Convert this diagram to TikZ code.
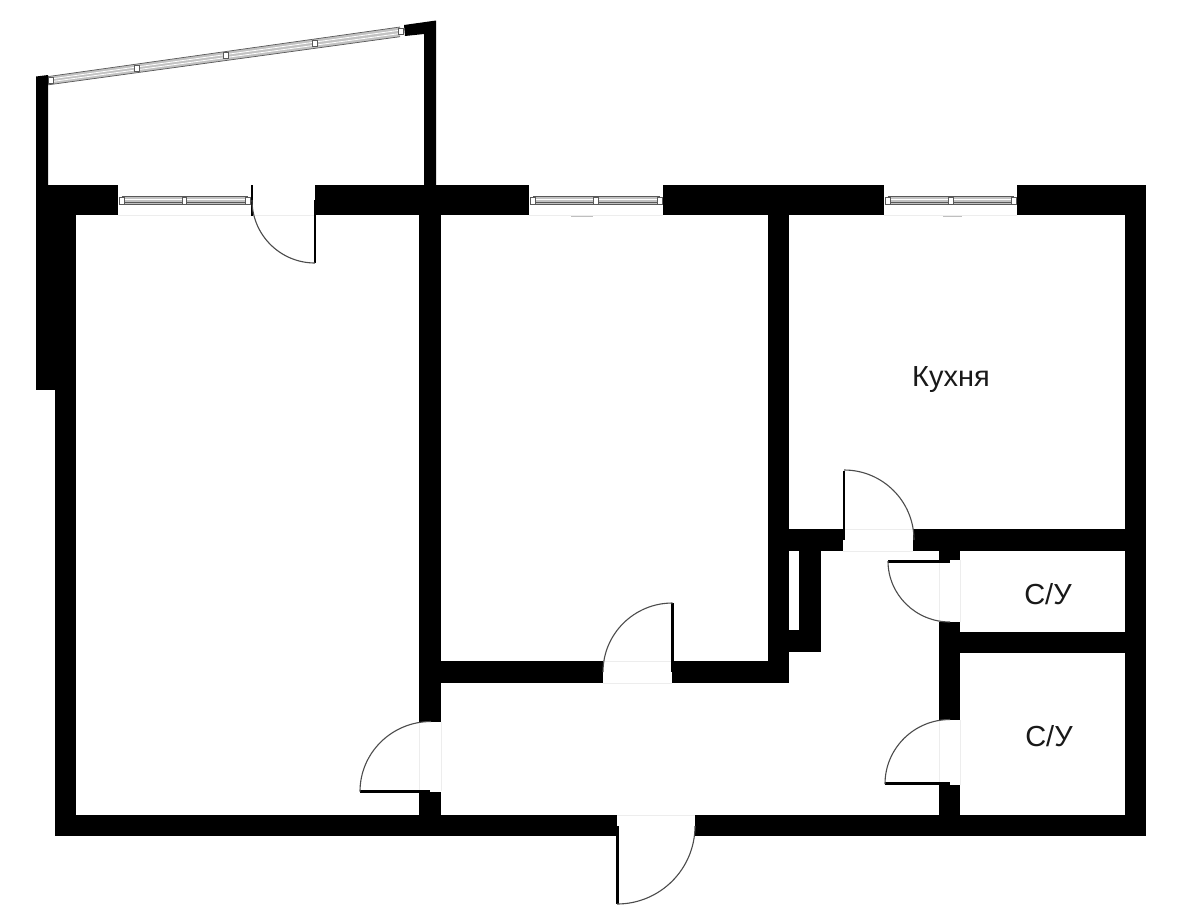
\documentclass[tikz,border=0pt]{standalone}
\usepackage{fontspec}
\setmainfont{Liberation Sans}
\definecolor{faint}{gray}{0.93}
\definecolor{glassfill}{gray}{0.76}
\definecolor{glassline}{gray}{0.35}
\tikzset{
  wall/.style={fill=black,draw=none},
  leaf/.style={fill=black,draw=none},
  swing/.style={draw=black!70,line width=1.1pt},
  sill/.style={draw=faint,line width=1pt},
  glass/.style={fill=glassfill,draw=none},
  glassedge/.style={draw=glassline,line width=0.7pt},
  glasswhite/.style={draw=white,line width=0.8pt},
  post/.style={fill=white,draw=black!65,line width=0.8pt},
  room/.style={font=\fontsize{29}{33}\selectfont,text=black!90,inner sep=0pt}
}
% quarter circle: centre, offset of start, offset of end
\newcommand{\qarc}[6]{\draw[swing] ({#1+(#3)},{#2+(#4)}) .. controls ({#1+(#3)+0.5523*(#5)},{#2+(#4)+0.5523*(#6)}) and ({#1+(#5)+0.5523*(#3)},{#2+(#6)+0.5523*(#4)}) .. ({#1+(#5)},{#2+(#6)});}
% straight window: x from, x mid, x to, with y fixed
\newcommand{\hwindow}[3]{%
  \fill[glass] (#1,196) rectangle (#3,205);
  \draw[glassedge] (#1,196.5) -- (#3,196.5) (#1,204.5) -- (#3,204.5);
  \draw[glasswhite] (#1,199) -- (#3,199);
  \draw[glassedge,line width=0.5pt] (#1,201.8) -- (#3,201.8);
  \filldraw[post] ({#1-2.6},197.5) rectangle ({#1+2.6},204);
  \filldraw[post] ({#2-2.2},197.5) rectangle ({#2+2.2},204);
  \filldraw[post] ({#3-2.6},197.5) rectangle ({#3+2.6},204);
}
\begin{document}
\begin{tikzpicture}[x=1pt,y=-1pt]
\useasboundingbox[fill=white] (0,0) rectangle (1200,922);

% faint door and window sills
\draw[sill] (118,215) -- (315,215);
\draw[sill] (529,215) -- (663,215);
\draw[sill] (884,215) -- (1017,215);
\draw[sill] (603,661) -- (672,661) (603,683) -- (672,683);
\draw[sill] (843,529) -- (913,529) (843,551) -- (913,551);
\draw[sill] (419,722) -- (419,791) (441,722) -- (441,791);
\draw[sill] (939,622) -- (939,560) (960,622) -- (960,560);
\draw[sill] (939,720) -- (939,785) (960,720) -- (960,785);
\draw[sill] (617,815) -- (695,815);
\draw[draw=black!25,line width=0.8pt] (571,216.5) -- (593,216.5) (943,216.5) -- (962,216.5);

% balcony glazing
\fill[glass] (47,76.7) -- (400,27) -- (400,36.7) -- (47,85) -- cycle;
\draw[glassedge] (47,76.7) -- (400,27) (47,85) -- (400,36.7);
\draw[glasswhite] (47,79.5) -- (400,30.2);
\draw[glasswhite] (47,82.2) -- (400,33.5);
\foreach \px/\py in {50.7/80.7,136.7/68.3,225.7/55.7,315/43.3,401/31.7}
  \filldraw[post] ({\px-2.7},{\py-3}) rectangle ({\px+2.7},{\py+3});

% balcony walls
\fill[wall] (36,76.5) -- (48,75) -- (48,185) -- (36,185) -- cycle;
\fill[wall] (404,25) -- (436,20.5) -- (436,186) -- (424,186) -- (424,34) -- (405,36) -- cycle;

% outer walls
\fill[wall] (36,185) rectangle (118,215);
\fill[wall] (36,185) rectangle (76,390);
\fill[wall] (55,390) rectangle (76,836);
\fill[wall] (315,185) rectangle (529,215);
\fill[wall] (663,185) rectangle (884,215);
\fill[wall] (1017,185) rectangle (1146,215);
\fill[wall] (1125,185) rectangle (1146,836);
\fill[wall] (55,815) rectangle (617,836);
\fill[wall] (695,815) rectangle (1146,836);

% inner walls
\fill[wall] (419,215) rectangle (441,722);
\fill[wall] (419,792) rectangle (441,815);
\fill[wall] (441,661) rectangle (603,683);
\fill[wall] (672,661) rectangle (789,683);
\fill[wall] (767.5,215) rectangle (789,683);
\fill[wall] (789,529) rectangle (843,551);
\fill[wall] (913,529) rectangle (1125,551);
\fill[wall] (799,551) rectangle (821,652);
\fill[wall] (789,630) rectangle (821,652);
\fill[wall] (939,551) rectangle (960,560);
\fill[wall] (939,622) rectangle (960,720);
\fill[wall] (939,785) rectangle (960,815);
\fill[wall] (960,631.5) rectangle (1125,652.5);

% windows
\hwindow{121.5}{184.3}{247.7}
\hwindow{533}{595.7}{659.6}
\hwindow{887.5}{950.7}{1013.6}

% door leaves
\fill[leaf] (251,185) rectangle (253,216);
\fill[leaf] (313.5,200) rectangle (316,263);
\fill[leaf] (671,603) rectangle (673.5,672);
\fill[leaf] (842.5,470.5) rectangle (845,540);
\fill[leaf] (360,790) rectangle (430,793);
\fill[leaf] (888,559.5) rectangle (950,562.5);
\fill[leaf] (884.5,782) rectangle (950,785);
\fill[leaf] (616,826) rectangle (618.5,904);

% door swings
\qarc{315}{200}{-63}{0}{0}{63}
\qarc{672.5}{672}{-69.5}{0}{0}{-69}
\qarc{844}{540}{0}{-70}{70}{0}
\qarc{431}{791.5}{0}{-70}{-71}{0}
\qarc{950}{561}{-62}{0}{0}{61}
\qarc{950}{784}{0}{-64.5}{-65}{0}
\qarc{617}{826}{78}{0}{0}{78}

% room labels
\node[room] (kitchen) at (951,380) {Кухня};
\node[room] (bath1) at (1048,594) {С/У};
\node[room] (bath2) at (1049,736) {С/У};
\end{tikzpicture}
\end{document}
